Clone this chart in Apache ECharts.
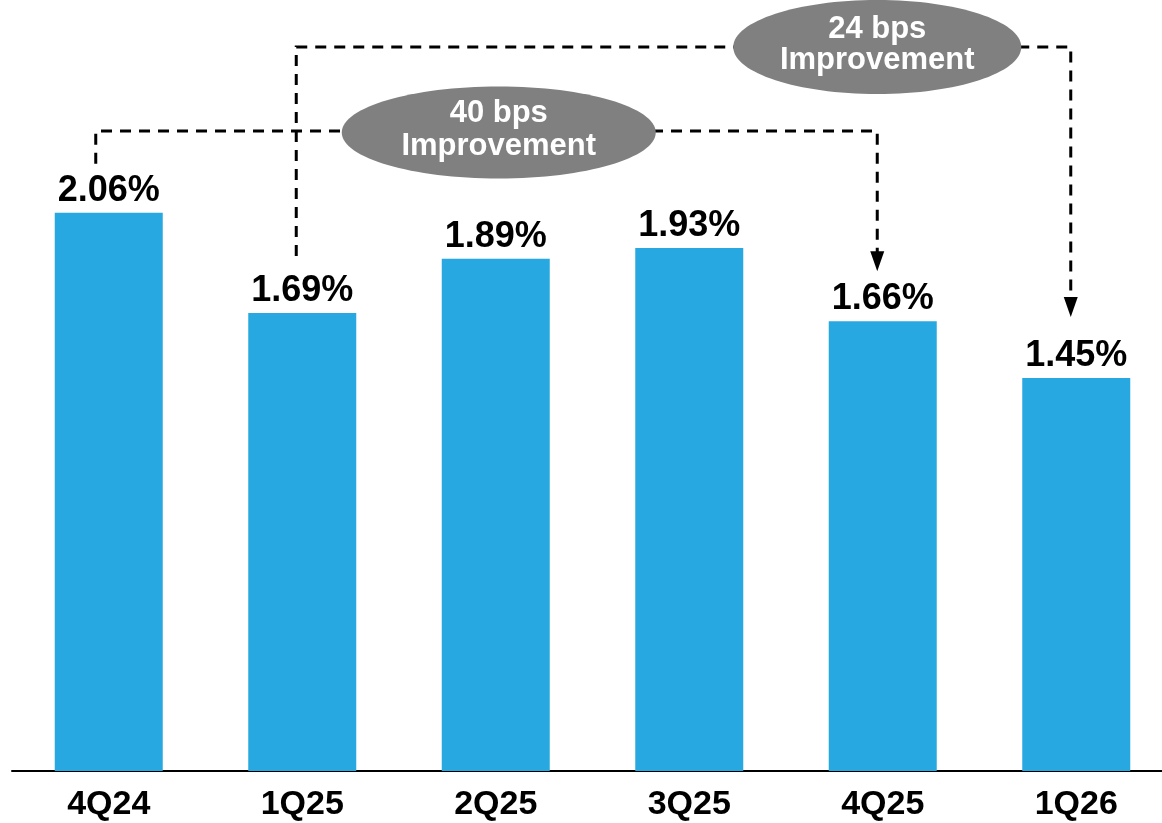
<!DOCTYPE html>
<html>
<head>
<meta charset="utf-8">
<script src="https://cdn.jsdelivr.net/npm/echarts@6/dist/echarts.min.js"></script>
<style>
  html, body { margin: 0; padding: 0; background: #ffffff; }
  #chart { width: 1162px; height: 823px; }
</style>
</head>
<body>
<div id="chart"></div>
<script>
const categories = ['4Q24', '1Q25', '2Q25', '3Q25', '4Q25', '1Q26'];
const values = [2.06, 1.69, 1.89, 1.93, 1.66, 1.45];
const annotationTexts = ['40 bps\nImprovement', '24 bps\nImprovement'];
// annotation brackets: [fromIndex, toIndex]
const bracketPairs = [[0, 4], [1, 5]];

const FONT = '"Liberation Sans", Arial, Helvetica, sans-serif';
const chart = echarts.init(document.getElementById('chart'), null, { renderer: 'canvas' });

chart.setOption({
  animation: false,
  backgroundColor: '#ffffff',
  grid: { left: 12, width: 1161, top: 0, bottom: 52, containLabel: false, outerBoundsMode: 'none' },
  xAxis: {
    type: 'category',
    data: categories,
    axisLine: { show: true, lineStyle: { color: '#000000', width: 2 } },
    axisTick: { show: false },
    axisLabel: {
      color: '#000000', fontFamily: FONT, fontWeight: 'bold', fontSize: 34, margin: 17
    }
  },
  yAxis: {
    type: 'value', min: 0, max: 2.845, show: false,
    splitLine: { show: false }
  },
  series: [{
    type: 'bar',
    data: values,
    barWidth: 108,
    itemStyle: { color: '#27A8E0' },
    label: {
      show: true, position: 'top', distance: 4,
      formatter: p => p.value.toFixed(2) + '%',
      color: '#000000', fontFamily: FONT, fontWeight: 'bold', fontSize: 36
    }
  }]
});

function px(i, v) { return chart.convertToPixel({ gridIndex: 0 }, [i, v]); }

const dash = { stroke: '#000000', lineWidth: 3, lineDash: [11, 8], fill: null };
const graphics = [];

// Bracket 1: 4Q24 -> 4Q25
(function () {
  const [a, b] = bracketPairs[0];
  const pa = px(a, values[a]);
  const pb = px(b, values[b]);
  const yH = 131;
  const xL = pa[0] - 13, xR = pb[0] - 5.5;
  const tipY = pb[1] - 50;
  graphics.push({ type: 'polyline', z: 10, shape: { points: [[xL, pa[1] - 49], [xL, yH], [xR, yH], [xR, tipY - 18]] }, style: dash });
  graphics.push({ type: 'polygon', z: 10, shape: { points: [[xR - 7, tipY - 20], [xR + 7, tipY - 20], [xR, tipY]] }, style: { fill: '#000000' } });
  const cx = px(2, 0)[0] + 3;
  graphics.push({ type: 'ellipse', z: 20, shape: { cx: cx, cy: 132.5, rx: 157, ry: 46 }, style: { fill: '#808080' } });
  graphics.push({ type: 'text', z: 30, x: cx, y: 130, style: { text: annotationTexts[0], font: 'bold 31px ' + FONT, fill: '#ffffff', align: 'center', verticalAlign: 'middle', lineHeight: 33 } });
})();

// Bracket 2: 1Q25 -> 1Q26
(function () {
  const [a, b] = bracketPairs[1];
  const pa = px(a, values[a]);
  const pb = px(b, values[b]);
  const yH = 47;
  const xL = pa[0] - 6, xR = pb[0] - 5.5;
  const tipY = pb[1] - 61;
  graphics.push({ type: 'polyline', z: 10, shape: { points: [[xL, pa[1] - 57], [xL, yH], [xR, yH], [xR, tipY - 18]] }, style: dash });
  graphics.push({ type: 'polygon', z: 10, shape: { points: [[xR - 7, tipY - 20], [xR + 7, tipY - 20], [xR, tipY]] }, style: { fill: '#000000' } });
  const cx = px(4, 0)[0] - 5.5;
  graphics.push({ type: 'ellipse', z: 20, shape: { cx: cx, cy: 47, rx: 144, ry: 47 }, style: { fill: '#808080' } });
  graphics.push({ type: 'text', z: 30, x: cx, y: 45, style: { text: annotationTexts[1], font: 'bold 31px ' + FONT, fill: '#ffffff', align: 'center', verticalAlign: 'middle', lineHeight: 31 } });
})();

chart.setOption({ graphic: graphics });
</script>
</body>
</html>
